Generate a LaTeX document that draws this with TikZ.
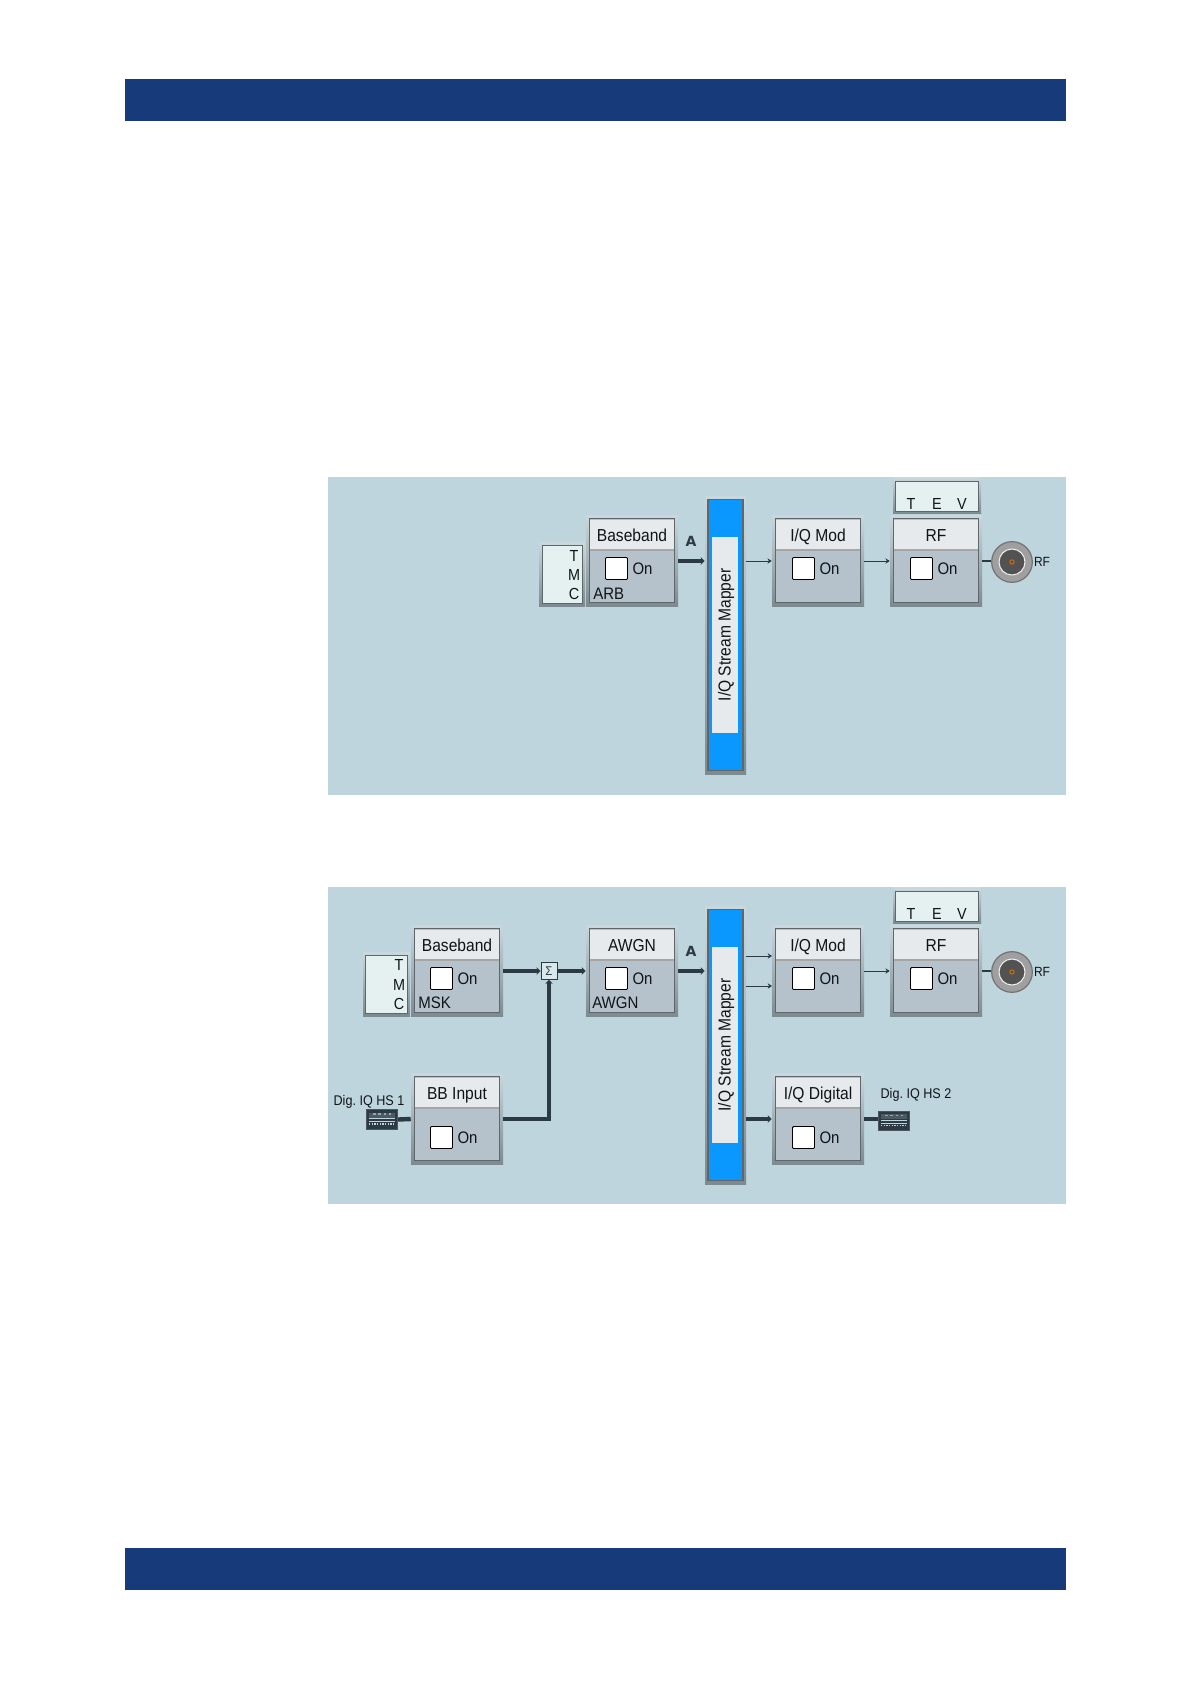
\documentclass[tikz,border=0pt]{standalone}
\usepackage{fontspec}
\setmainfont[FakeStretch=0.9]{Liberation Sans}
\newfontfamily\dvfont{DejaVu Sans}
\usetikzlibrary{arrows.meta,calc}
\definecolor{barblue}{HTML}{173A7B}
\definecolor{panelbg}{HTML}{BED5DD}
\definecolor{bodygray}{HTML}{B5C2CC}
\definecolor{bandgray}{HTML}{E6EAED}
\definecolor{framegray}{HTML}{60676C}
\definecolor{wire}{HTML}{2C3A44}
\definecolor{mapblue}{HTML}{0A98FF}
\definecolor{tabpale}{HTML}{E5F1F1}
\definecolor{inkblack}{HTML}{101418}
\frenchspacing
\tikzset{
  bar/.style={fill=barblue,draw=none},
  panel/.style={fill=panelbg,draw=none},
  blockouter/.style={rectangle,inner sep=0pt,minimum width=69pt,minimum height=68.25pt,top color=HaloTop,bottom color=HaloBot,draw=none},
  blockbody/.style={rectangle,inner sep=0pt,minimum width=64pt,minimum height=63pt,fill=bodygray,draw=framegray,line width=1.1pt},
  blockband/.style={rectangle,inner sep=0pt,minimum width=63pt,minimum height=22.5pt,fill=bandgray,draw=none},
  blocktitle/.style={inner sep=0pt,font=\fontsize{13}{14}\selectfont,text=inkblack,text height=9.3pt,text depth=0pt},
  checkbox/.style={rectangle,inner sep=0pt,minimum width=16.5pt,minimum height=16.5pt,fill=white,draw=black,line width=.7pt,rounded corners=.8pt},
  onlabel/.style={inner sep=0pt,font=\fontsize{12.5}{14}\selectfont,text=inkblack,text height=9pt,text depth=0pt},
  sublabel/.style={inner sep=0pt,anchor=west,font=\fontsize{12.5}{14}\selectfont,text=inkblack,text height=9pt,text depth=0pt},
  tabouter/.style={rectangle,inner sep=0pt,top color=HaloTop,bottom color=HaloBot,draw=none},
  tabinner/.style={rectangle,inner sep=0pt,fill=tabpale,draw=framegray,line width=.9pt},
  tabletter/.style={inner sep=0pt,font=\fontsize{12}{13}\selectfont,text=inkblack,text height=8.6pt,text depth=0pt},
  mapouter/.style={rectangle,inner sep=0pt,minimum width=30.75pt,minimum height=208.5pt,top color=HaloTop,bottom color=HaloBot,draw=none},
  mapinner/.style={rectangle,inner sep=0pt,minimum width=26.25pt,minimum height=203.5pt,fill=mapblue,draw=framegray,line width=1pt},
  mapstrip/.style={rectangle,inner sep=0pt,minimum width=19.5pt,minimum height=147pt,fill=bandgray,draw=none},
  maptext/.style={inner sep=0pt,rotate=90,font=\fontsize{13}{14}\selectfont,text=inkblack,text height=9.3pt,text depth=0pt},
  streamA/.style={inner sep=0pt,font=\dvfont\bfseries\fontsize{10.5}{12}\selectfont,text=wire},
  portlabel/.style={inner sep=0pt,font=\fontsize{10.5}{12}\selectfont,text=inkblack,text height=7.6pt,text depth=0pt},
  rflabel/.style={inner sep=0pt,font=\fontsize{10}{11}\selectfont,text=inkblack,text height=7.2pt,text depth=0pt},
  rfouter/.style={circle,inner sep=0pt,minimum size=30.5pt,fill=RfGray,draw=RfEdge,line width=.9pt},
  rfring/.style={circle,inner sep=0pt,minimum size=19.5pt,fill=RfDark,draw=white!85!gray,line width=.8pt},
  rfpin/.style={circle,inner sep=0pt,minimum size=3.2pt,fill=RfDark,draw=orange!85!black,line width=.7pt},
  digport/.style={rectangle,inner sep=0pt,minimum width=23.5pt,minimum height=14.5pt,fill=wire,draw=wire!60!gray,line width=.7pt},
  sigmabox/.style={rectangle,inner sep=0pt,minimum width=12pt,minimum height=12.5pt,fill=tabpale!70!panelbg,draw=wire,line width=.7pt,font=\fontsize{9.5}{10}\selectfont,text=wire},
  thickwire/.style={draw=wire,line width=3.3pt},
  thickarrow/.style={thickwire,-{Stealth[length=3pt,width=5.6pt]}},
  thinarrow/.style={draw=wire,line width=.6pt,-{Stealth[length=3.2pt,width=4pt]}},
  thinwire/.style={draw=wire,line width=.8pt},
}
\colorlet{HaloTop}{panelbg!70!white!90!gray}
\colorlet{HaloBot}{black!35!panelbg}
\colorlet{RfGray}{gray!75!white}
\colorlet{RfEdge}{black!55}
\colorlet{RfDark}{black!68}
\newcommand{\fnblock}[6]{%
  \begin{scope}[shift={(#2,#3)}]
    \node[blockouter] (#1) at (46,45) {};
    \node[blockbody] (#1body) at (46,44.5) {};
    \node[blockband] (#1band) at (46,18.5) {};
    \draw[draw=black!35,line width=1.1pt] (#1band.south west) -- (#1band.south east);
    \node[blocktitle] (#1title) at (46,19.5) {#4};
    \node[checkbox] (#1box) at (#5,#6) {};
    \node[onlabel] (#1on) at ($(#5,#6)+(26,0)$) {On};
  \end{scope}}
\newcommand{\mapperblock}[2]{%
  \node[mapouter] (#1) at (725.5,#2+138.5) {};
  \node[mapinner] (#1body) at (725.5,#2+138) {};
  \node[mapstrip] (#1strip) at (725,#2+138) {};
  \node[maptext] (#1text) at (724.5,#2+138) {I/Q Stream Mapper};}
\newcommand{\rfport}[2]{%
  \node[rfouter] (#1) at (1012,#2) {};
  \node[rfring] (#1ring) at (1012,#2) {};
  \node[rfpin] (#1pin) at (1012,#2) {};}
\newcommand{\digiport}[3]{%
  \node[digport] (#1) at (#2,#3) {};
  \begin{scope}[shift={(#2,#3)}]
    \fill[black!35!wire!70!panelbg] (-13,-7) rectangle (13,-2);
    \draw[panelbg,line width=.4pt] (-13,-1) -- (13,-1) (-13,2) -- (13,2);
    \draw[panelbg,line width=.8pt,dash pattern=on 1pt off 1pt] (-13,4.5) -- (13,4.5);
    \draw[panelbg!70!wire,line width=.8pt,dash pattern=on 2pt off 2pt] (-9,-5.5) -- (9,-5.5);
  \end{scope}}
\begin{document}
\begin{tikzpicture}[x=0.75pt,y=-0.75pt]
\useasboundingbox (0,0) rectangle (1192,1685);
\fill[white] (0,0) rectangle (1192,1685);
\fill[bar] (125,79) rectangle (1066,121);
\fill[bar] (125,1548) rectangle (1066,1590);
\fill[panel] (328,477) rectangle (1066,795);
\fill[panel] (328,887) rectangle (1066,1204);

% --- top panel ---
\node[tabouter,minimum width=34.5pt,minimum height=47.5pt] (tmcA) at (562,574.5) {};
\node[tabinner,minimum width=30.5pt,minimum height=43.5pt] (tmcAin) at (562.5,574.5) {};
\node[tabletter] (tmcAt) at (574,556) {T};
\node[tabletter] (tmcAm) at (574,575) {M};
\node[tabletter] (tmcAc) at (574,594) {C};
\fnblock{bbA}{586}{516}{Baseband}{30.5}{52.5}
\node[sublabel] (bbAsub) at (593,593) {ARB};
\mapperblock{smA}{497}
\node[streamA] (labA) at (691,541) {A};
\fnblock{iqA}{772}{516}{I/Q Mod}{31.5}{52.5}
\node[tabouter,minimum width=66pt,minimum height=27pt] (tevA) at (937,495.5) {};
\node[tabinner,minimum width=62pt,minimum height=23pt] (tevAin) at (937,496.5) {};
\node[tabletter] (tevAt) at (911,503.5) {T};
\node[tabletter] (tevAe) at (937,503.5) {E};
\node[tabletter] (tevAv) at (962,503.5) {V};
\fnblock{rfA}{890}{516}{RF}{31.5}{52.5}
\rfport{portA}{562}
\node[rflabel] (portAlab) at (1042,562) {RF};
\draw[thickarrow] (bbA.east) -- (bbA.east -| smA.west);
\draw[thinarrow] (smA.east |- iqA.west) -- (iqA.west);
\draw[thinarrow] (iqA.east) -- (rfA.west);
\draw[thinwire] (rfA.east) -- (rfA.east -| portA.west);

% --- bottom panel ---
\node[tabouter,minimum width=35pt,minimum height=47.5pt] (tmcB) at (386.5,984.5) {};
\node[tabinner,minimum width=31pt,minimum height=43.5pt] (tmcBin) at (386.5,984.5) {};
\node[tabletter] (tmcBt) at (399,965) {T};
\node[tabletter] (tmcBm) at (399,985) {M};
\node[tabletter] (tmcBc) at (399,1004) {C};
\fnblock{bbB}{411}{926}{Baseband}{30.5}{52.5}
\node[sublabel] (bbBsub) at (418,1002) {MSK};
\node[sigmabox] (sum) at (549,971) {Σ};
\fnblock{awB}{586}{926}{AWGN}{30.5}{52.5}
\node[sublabel] (awBsub) at (592,1002) {AWGN};
\fnblock{inB}{411}{1074}{BB Input}{30.5}{63.5}
\digiport{portC}{382}{1119.5}
\node[portlabel] (portClab) at (369,1100) {Dig. IQ HS 1};
\mapperblock{smB}{907}
\node[streamA] (labB) at (691,951) {A};
\fnblock{iqB}{772}{926}{I/Q Mod}{31.5}{52.5}
\fnblock{dgB}{772}{1074}{I/Q Digital}{31.5}{63.5}
\node[tabouter,minimum width=66pt,minimum height=27pt] (tevB) at (937,905.5) {};
\node[tabinner,minimum width=62pt,minimum height=23pt] (tevBin) at (937,906.5) {};
\node[tabletter] (tevBt) at (911,913.5) {T};
\node[tabletter] (tevBe) at (937,913.5) {E};
\node[tabletter] (tevBv) at (962,913.5) {V};
\fnblock{rfB}{890}{926}{RF}{31.5}{52.5}
\rfport{portB}{972}
\node[rflabel] (portBlab) at (1042,972) {RF};
\digiport{portD}{894}{1121}
\node[portlabel] (portDlab) at (916,1093) {Dig. IQ HS 2};
\coordinate (iqBa) at (772,956);
\coordinate (iqBb) at (772,986);
\draw[thickarrow] (bbB.east) -- (sum.west);
\draw[thickarrow] (sum.east) -- (awB.west);
\draw[thickarrow] (inB.east) -| (sum.south);
\draw[thickwire] (portC.east) -- (inB.west);
\draw[thickarrow] (awB.east) -- (awB.east -| smB.west);
\draw[thinarrow] (smB.east |- iqBa) -- (iqBa);
\draw[thinarrow] (smB.east |- iqBb) -- (iqBb);
\draw[thinarrow] (iqB.east) -- (rfB.west);
\draw[thickarrow] (smB.east |- dgB.west) -- (dgB.west);
\draw[thickwire] (dgB.east) -- (dgB.east -| portD.west);
\draw[thinwire] (rfB.east) -- (rfB.east -| portB.west);
\end{tikzpicture}
\end{document}
